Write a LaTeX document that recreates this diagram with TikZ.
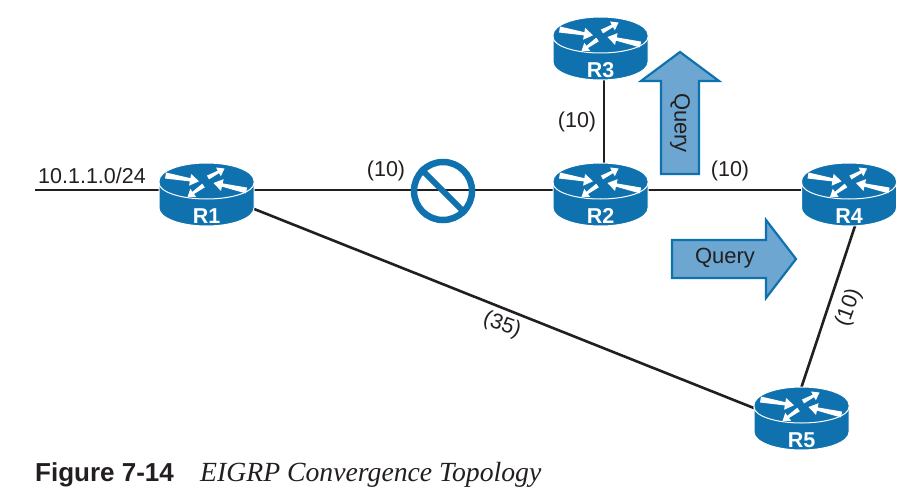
\documentclass[tikz,border=0pt]{standalone}
\usepackage{fontspec}
\setmainfont{Liberation Sans}
\newfontfamily\capserif{Liberation Serif}
\usetikzlibrary{backgrounds}
\definecolor{rblue}{HTML}{0F72AF}
\definecolor{afill}{HTML}{6CA6D1}
\definecolor{ink}{HTML}{231F20}
\tikzset{
  x=1pt,y=-1pt,
  link/.style={draw=ink,line width=2.6pt},
  flow/.style={draw=rblue,fill=afill,line width=2.2pt,line join=miter},
  linktext/.style={text=ink,font=\fontsize{21.5}{24}\selectfont,inner sep=0pt},
  flowtext/.style={text=ink,font=\fontsize{22}{24}\selectfont,inner sep=0pt},
  routerbox/.style={minimum width=95pt,minimum height=54pt,inner sep=0pt,outer sep=0pt},
  routertext/.style={text=white,font=\bfseries\fontsize{21.5}{24}\selectfont,inner sep=0pt},
}
\newcommand{\routerat}[4]{%
  \begin{scope}[shift={(#1,#2)}]
    \fill[rblue,draw=white,line width=1pt] (-47.5,18) -- (-47.5,45)
      arc[start angle=180,end angle=0,x radius=47.5,y radius=18]
      -- (47.5,18) arc[start angle=0,end angle=-180,x radius=47.5,y radius=18] -- cycle;
    \draw[white,line width=1pt] (-47.5,20) arc[start angle=180,end angle=0,x radius=47.5,y radius=16];
    \fill[white] (-40.5,9.5) -- (-16.1,15.2) -- (-15.4,10.9) -- (-7.5,18.3) -- (-17.4,22.7) -- (-16.7,18.4) -- (-41.5,15.5) -- cycle;
    \fill[white] (40.7,24.6) -- (16.2,20.4) -- (17.1,16.2) -- (7,20) -- (14.5,27.9) -- (15.4,23.6) -- (39.3,30.4) -- cycle;
    \fill[white] (.4,12.6) -- (11.2,7.7) -- (9.5,4.5) -- (18,5.5) -- (14.3,13.3) -- (12.6,10.1) -- (2.5,16.4) -- cycle;
    \fill[white] (-4.3,20.7) -- (-14.1,28.8) -- (-16.2,25.8) -- (-19,34) -- (-10.4,33.9) -- (-12.5,31) -- (-1.7,24.3) -- cycle;
  \end{scope}
  \node[routerbox] (#3) at (#1,#2+27) {};
  \node[routertext] (#3t) at (#1,#2+53) {#4};
}
\begin{document}
\begin{tikzpicture}
\useasboundingbox (0,0) rectangle (920,500);
\routerat{206.5}{163}{R1}{R1}
\routerat{600.5}{163}{R2}{R2}
\routerat{600.5}{17}{R3}{R3}
\routerat{849}{163}{R4}{R4}
\routerat{801.5}{387}{R5}{R5}
\coordinate (net) at (35,190);
\begin{scope}[on background layer]
  \draw[link] (net) -- (R1.center);
  \draw[link] (R1.center) -- (R2.center);
  \draw[link] (R2.center) -- (R4.center);
  \draw[link] ([xshift=3.5pt]R3.center) -- ([xshift=3.5pt]R2.center);
  \draw[link] (R1.center) -- ([yshift=-13pt]R5.center);
  \draw[link] ([xshift=9pt]R4.south) -- (R5.north);
\end{scope}
% prohibition sign
\node[circle,draw=rblue,line width=6.5pt,minimum size=58pt,inner sep=0pt] (stop) at (443,191) {};
\draw[rblue,line width=6pt] (stop.135) -- (stop.-45);
% query arrows
\draw[flow] (680,52) -- (719,81) -- (699,81) -- (699,174) -- (661,174) -- (661,81) -- (641,81) -- cycle;
\draw[flow] (796,259) -- (766,298) -- (766,278) -- (672,278) -- (672,240) -- (766,240) -- (766,220) -- cycle;
\node[flowtext,rotate=-90] (q1) at (680,123) {Query};
\node[flowtext] (q2) at (725,258) {Query};
% labels
\node[linktext,anchor=base west] (net1) at (38,183) {10.1.1.0/24};
\node[linktext] (l1) at (386,171) {(10)};
\node[linktext] (l2) at (577,122) {(10)};
\node[linktext] (l3) at (730,171) {(10)};
\node[linktext,rotate=70] (l4) at (849,308) {(10)};
\node[linktext,rotate=-20] (l5) at (502,325) {(35)};
% caption
\node[anchor=base west,inner sep=0pt,text=ink,font=\bfseries\fontsize{26}{28}\selectfont] (capa) at (35,481) {Figure 7-14};
\node[anchor=base west,inner sep=0pt,text=ink,font=\capserif\itshape\fontsize{27.7}{28}\selectfont] (capb) at (200,481) {EIGRP Convergence Topology};
\end{tikzpicture}
\end{document}
